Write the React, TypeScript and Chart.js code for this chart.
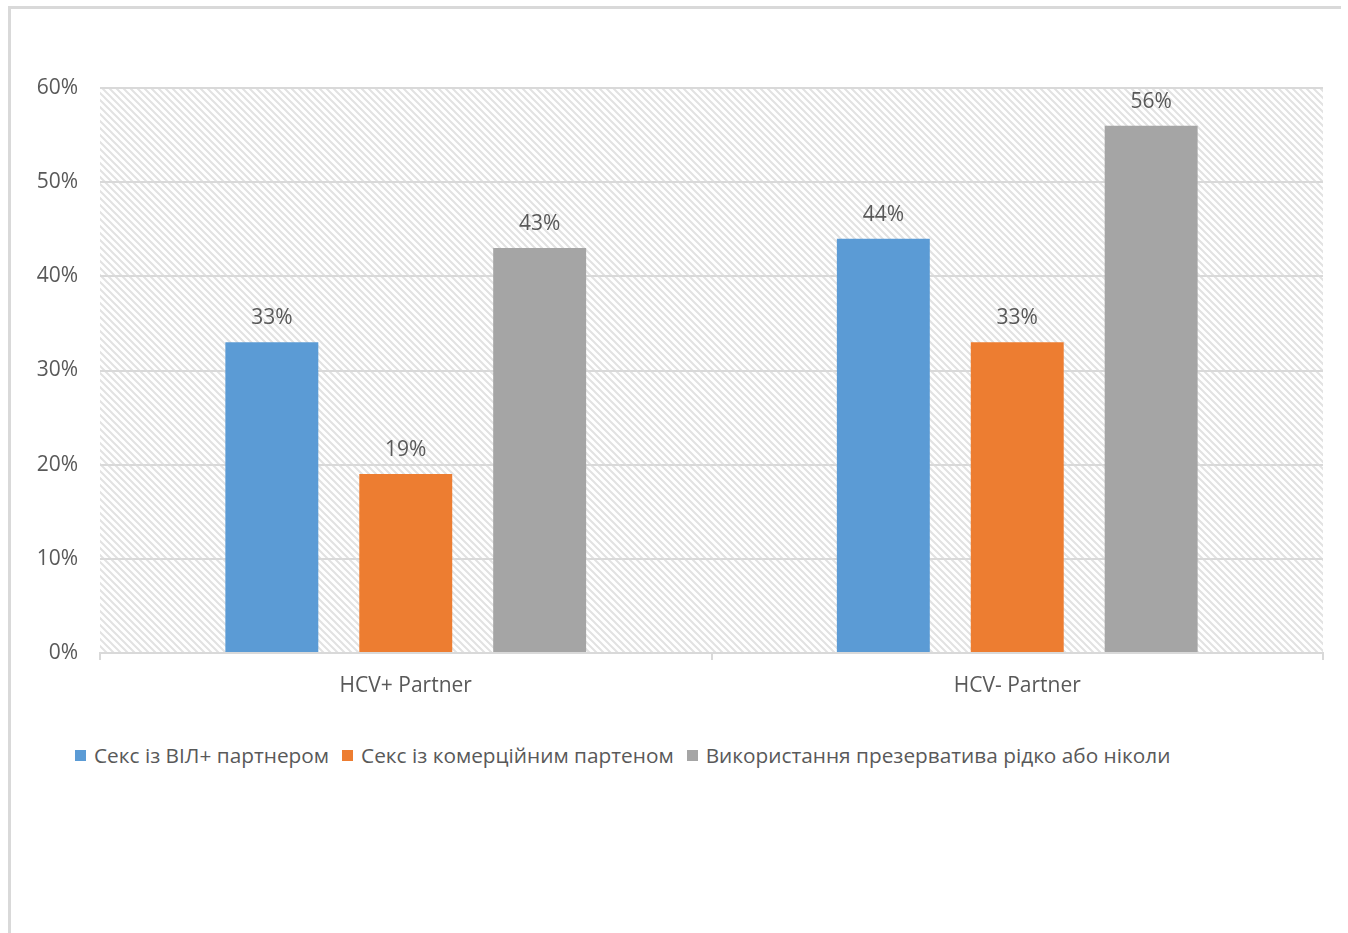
import React, { useEffect, useRef } from "react";
import { Chart, registerables } from "chart.js";

Chart.register(...registerables);

const categories = ["HCV+ Partner", "HCV- Partner"];
const seriesNames = [
  "Секс із ВІЛ+ партнером",
  "Секс із комерційним партеном",
  "Використання презерватива рідко або ніколи",
];
const hivPartner = [33, 44];
const commercialPartner = [19, 33];
const condomRarely = [43, 56];
const seriesColors = ["#5B9BD5", "#ED7D31", "#A5A5A5"];
const yMin = 0;
const yMax = 60;
const yStep = 10;

const FONT = "'Open Sans', sans-serif";
const TEXT = "#595959";
const GRID = "#d9d9d9";

function makePattern(ctx: CanvasRenderingContext2D) {
  const size = 7;
  const c = document.createElement("canvas");
  c.width = size;
  c.height = size;
  const p = c.getContext("2d")!;
  p.fillStyle = "#ffffff";
  p.fillRect(0, 0, size, size);
  p.strokeStyle = "#e2e2e2";
  p.lineWidth = 2;
  p.beginPath();
  p.moveTo(-size, -size);
  p.lineTo(size * 2, size * 2);
  p.moveTo(-size, 0);
  p.lineTo(size, size * 2);
  p.moveTo(0, -size);
  p.lineTo(size * 2, size);
  p.stroke();
  return ctx.createPattern(c, "repeat");
}

const hatchPlugin = {
  id: "hatchBg",
  beforeDraw(chart: any) {
    const { ctx, chartArea } = chart;
    const pat = makePattern(ctx);
    if (!pat) return;
    ctx.save();
    ctx.fillStyle = pat;
    ctx.fillRect(chartArea.left, chartArea.top, chartArea.right - chartArea.left, chartArea.bottom - chartArea.top);
    ctx.restore();
  },
};

const valueLabelPlugin = {
  id: "valueLabels",
  afterDatasetsDraw(chart: any) {
    const { ctx } = chart;
    ctx.save();
    ctx.font = `21px ${FONT}`;
    ctx.fillStyle = TEXT;
    ctx.textAlign = "center";
    ctx.textBaseline = "alphabetic";
    chart.data.datasets.forEach((ds: any, i: number) => {
      const meta = chart.getDatasetMeta(i);
      meta.data.forEach((bar: any, j: number) => {
        ctx.fillText(`${ds.data[j]}%`, bar.x, bar.y - 18);
      });
    });
    ctx.restore();
  },
};

export default function App() {
  const ref = useRef<HTMLCanvasElement>(null);

  useEffect(() => {
    document.body.style.margin = "0";
    document.body.style.overflow = "hidden";
    const canvas = ref.current!;
    const values = [hivPartner, commercialPartner, condomRarely];
    const chart = new Chart(canvas, {
      type: "bar",
      data: {
        labels: categories,
        datasets: seriesNames.map((name, i) => ({
          label: name,
          data: values[i],
          backgroundColor: seriesColors[i],
          borderWidth: 0,
          categoryPercentage: 0.657,
          barPercentage: 0.694,
        })),
      },
      options: {
        responsive: false,
        animation: false,
        devicePixelRatio: 1,
        layout: { padding: { left: 0, right: 25, top: 88, bottom: 0 } },
        plugins: {
          legend: { display: false },
          tooltip: { enabled: false },
        },
        scales: {
          x: {
            grid: {
              offset: true,
              drawOnChartArea: false,
              drawTicks: true,
              tickLength: 7,
              color: GRID,
              lineWidth: 2,
            },
            border: { display: true, color: GRID, width: 2 },
            ticks: { color: TEXT, font: { family: FONT, size: 21 }, padding: 13 },
            afterFit: (s: any) => {
              s.height = 67;
            },
          },
          y: {
            min: yMin,
            max: yMax,
            ticks: {
              stepSize: yStep,
              color: TEXT,
              font: { family: FONT, size: 21 },
              padding: 22,
              callback: (v: any) => `${v}%`,
            },
            grid: { color: GRID, lineWidth: 2, drawTicks: false },
            border: { display: false },
            afterFit: (s: any) => {
              s.width = 100;
            },
          },
        },
      },
      plugins: [hatchPlugin, valueLabelPlugin],
    });
    return () => chart.destroy();
  }, []);

  return (
    <div style={{ position: "fixed", left: 0, top: 0, width: 1348, height: 933, background: "#fff", overflow: "hidden" }}>
      <div
        style={{
          position: "absolute",
          left: 8,
          top: 6,
          width: 1333,
          height: 927,
          borderTop: `3px solid ${GRID}`,
          borderLeft: `3px solid ${GRID}`,
          boxSizing: "border-box",
        }}
      />
      <canvas ref={ref} width={1348} height={720} style={{ position: "absolute", left: 0, top: 0, width: 1348, height: 720 }} />
      <div
        style={{
          position: "absolute",
          left: 75,
          top: 739,
          display: "flex",
          alignItems: "center",
          fontFamily: FONT,
          fontSize: 20.8,
          color: TEXT,
          whiteSpace: "nowrap",
          lineHeight: "32px",
        }}
      >
        {seriesNames.map((name, i) => (
          <span key={name} style={{ display: "flex", alignItems: "center", marginRight: 13 }}>
            <span style={{ display: "inline-block", width: 11, height: 11, background: seriesColors[i], marginRight: 8 }} />
            {name}
          </span>
        ))}
      </div>
    </div>
  );
}
